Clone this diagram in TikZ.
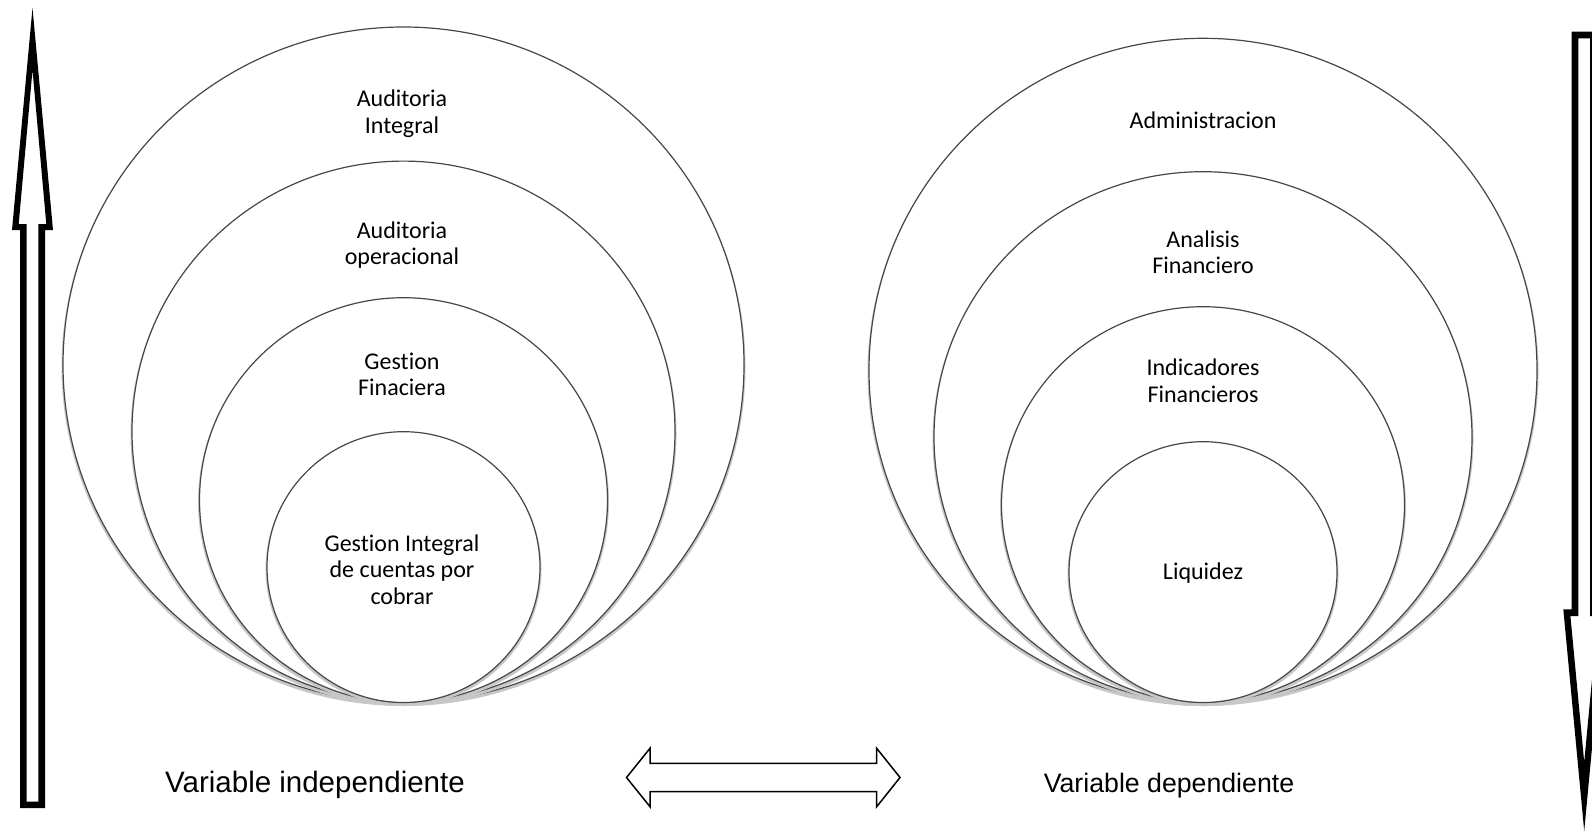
\documentclass[tikz,border=0pt]{standalone}
\usepackage{fontspec}
\setmainfont{Carlito}[Ligatures=NoCommon]
\newfontfamily\arialfont{Liberation Sans}
\usetikzlibrary{shapes.geometric}
\begin{document}
\begin{tikzpicture}[x=1pt,y=-1pt,
  ring/.style={ellipse, draw=black!72, line width=1.2pt, fill=white, inner sep=0pt},
  ringshade/.style={ellipse, draw=black!22, line width=3pt, inner sep=0pt},
  lbl/.style={font=\fontsize{24}{26.5}\selectfont, align=center, inner sep=0pt},
  varlbl/.style={font=\arialfont, anchor=base, inner sep=0pt},
  thinarrow/.style={draw=black, line width=1.5pt, line join=miter, fill=white}]
\useasboundingbox (0,0) rectangle (1592,830);
\clip (0,0) rectangle (1592,830);

% nested circles, independent variable
\foreach \n/\cy/\rx/\ry in {a/364.75/340.5/337.75, b/431.5/271.5/270.4, c/500.1/204/202.4, d/567.1/136.5/135.4}{
  \node[ringshade, minimum width=2*\rx, minimum height=2*\ry] at (403.5,\cy+2) {};
  \node[ring, minimum width=2*\rx, minimum height=2*\ry] (L\n) at (403.5,\cy) {};
}
% nested circles, dependent variable
\foreach \n/\cy/\rx/\ry in {a/370.4/334/332.1, b/437.1/269/265.4, c/504.6/201.5/197.9, d/572.1/134/130.4}{
  \node[ringshade, minimum width=2*\rx, minimum height=2*\ry] at (1203,\cy+2) {};
  \node[ring, minimum width=2*\rx, minimum height=2*\ry] (R\n) at (1203,\cy) {};
}

% circle captions
\node[lbl] (tLa) at (402,113.8) {Auditoria\\Integral};
\node[lbl] (tLb) at (402,245.3) {Auditoria\\operacional};
\node[lbl] (tLc) at (402,374.5) {Gestion\\Finaciera};
\node[lbl] (tLd) at (402,569.5) {Gestion Integral\\de cuentas por\\cobrar};
\node[lbl] (tRa) at (1203,120.5) {Administracion};
\node[lbl] (tRb) at (1203,252.5) {Analisis\\Financiero};
\node[lbl] (tRc) at (1203,380.5) {Indicadores\\Financieros};
\node[lbl] (tRd) at (1203,573.5) {Liquidez};

% variable names
\node[varlbl, font=\arialfont\fontsize{29.5}{34}\selectfont] (vind) at (315,792) {Variable independiente};
\node[varlbl, font=\arialfont\fontsize{26.7}{32}\selectfont] (vdep) at (1169,792) {Variable dependiente};

% double-headed block arrow between the two variables
\draw[thinarrow] (626.5,777.5) -- (650,748.3) -- (650,763.3) -- (876.7,763.3)
  -- (876.7,748.3) -- (900,777.5) -- (876.7,806.7) -- (876.7,791.7)
  -- (650,791.7) -- (650,806.7) -- cycle;

% thick outlined upward arrow (left)
\fill[black, even odd rule]
  (32.5,8) -- (53,230) -- (45,230) -- (45,808) -- (20,808) -- (20,230) -- (12,230) -- cycle
  (32.5,70) -- (46.3,224) -- (38.3,224) -- (38.3,801.5) -- (26.7,801.5) -- (26.7,224) -- (18.7,224) -- cycle;

% thick outlined downward arrow (right)
\fill[black, even odd rule]
  (1571.7,31.7) -- (1596.7,31.7) -- (1596.7,609.3) -- (1605,609.3) -- (1584.2,831)
  -- (1563.3,609.3) -- (1571.7,609.3) -- cycle
  (1578.3,38.3) -- (1590.1,38.3) -- (1590.1,616) -- (1598,616) -- (1584.2,762)
  -- (1570.4,616) -- (1578.3,616) -- cycle;
\end{tikzpicture}
\end{document}
